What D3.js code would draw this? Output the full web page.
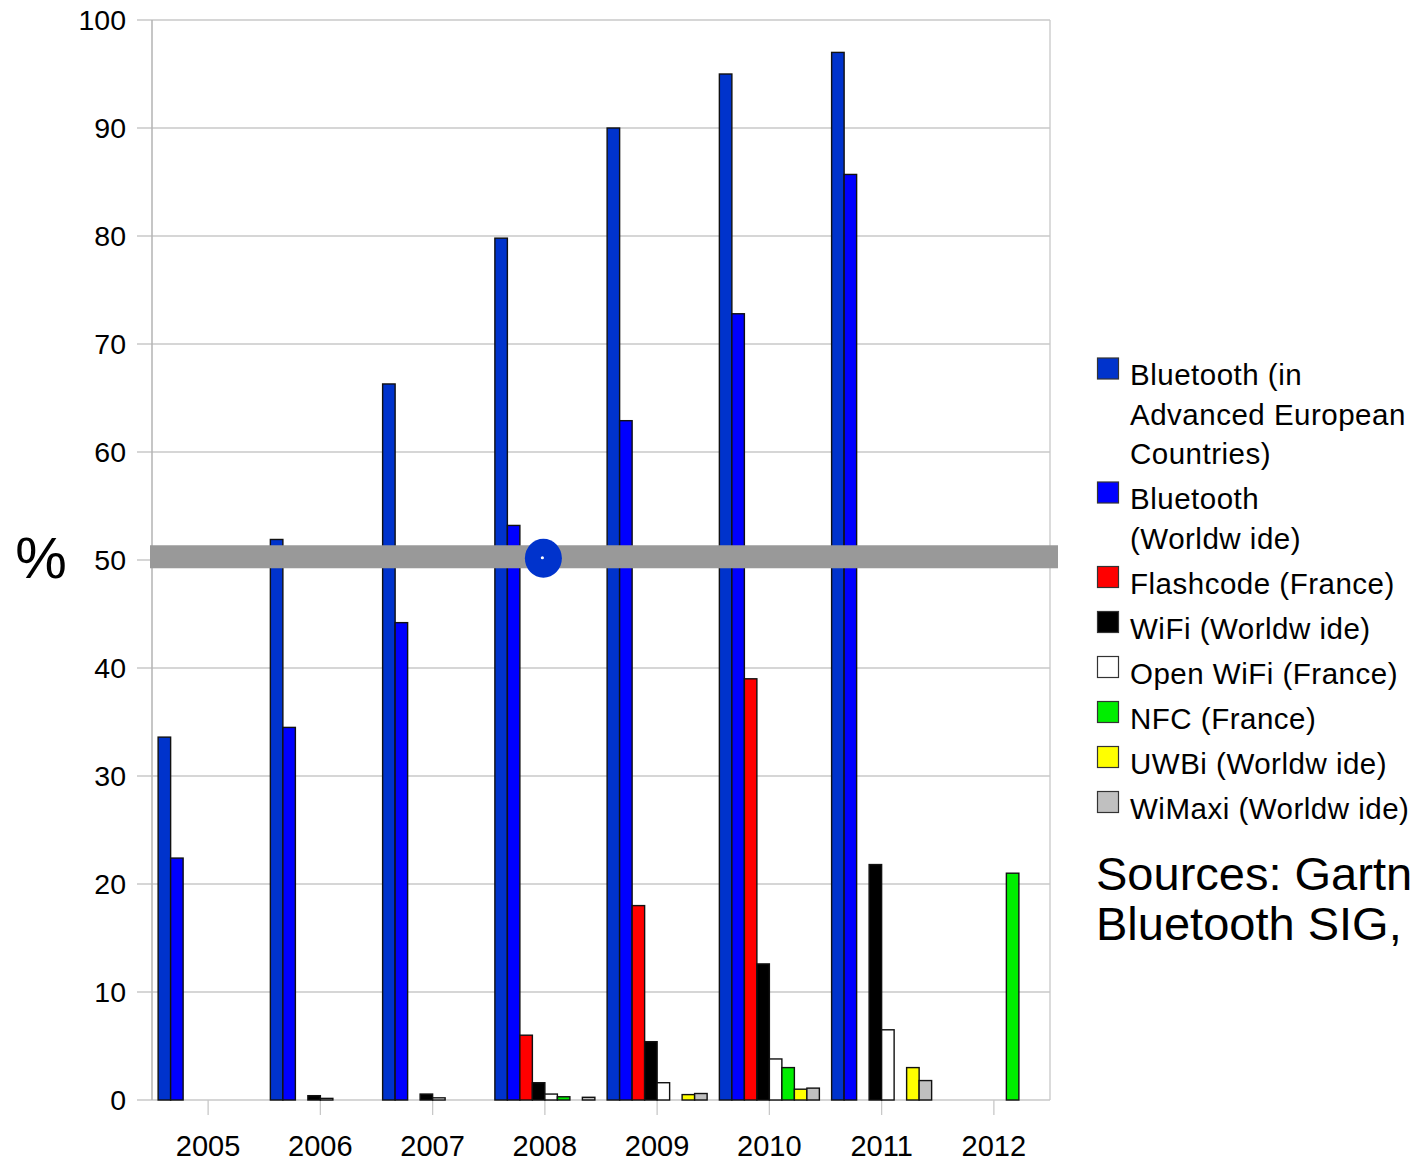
<!DOCTYPE html>
<html>
<head>
<meta charset="utf-8">
<script src="https://cdn.jsdelivr.net/npm/d3@7"></script>
<style>
  body { margin: 0; background: #fff; }
  svg { display: block; font-family: "Liberation Sans", Arial, sans-serif; }
</style>
</head>
<body>
<svg id="chart"></svg>
<script>
// data
const years = ['2005', '2006', '2007', '2008', '2009', '2010', '2011', '2012']
const seriesNames = [
  'Bluetooth (in Advanced European Countries)',
  'Bluetooth (Worldw ide)',
  'Flashcode (France)',
  'WiFi (Worldw ide)',
  'Open WiFi (France)',
  'NFC (France)',
  'UWBi (Worldw ide)',
  'WiMaxi (Worldw ide)'
]
const legendLines = [
  ['Bluetooth (in', 'Advanced European', 'Countries)'],
  ['Bluetooth', '(Worldw ide)'],
  ['Flashcode (France)'],
  ['WiFi (Worldw ide)'],
  ['Open WiFi (France)'],
  ['NFC (France)'],
  ['UWBi (Worldw ide)'],
  ['WiMaxi (Worldw ide)']
]
const colors = ['#0033cc', '#0000ff', '#ff0000', '#000000', '#ffffff', '#00ee00', '#ffff00', '#c0c0c0']

const btAdvanced = [33.6, 51.9, 66.3, 79.8, 90.0, 95.0, 97.0, null]
const btWorldwide = [22.4, 34.5, 44.2, 53.2, 62.9, 72.8, 85.7, null]
const flashcode = [null, null, null, 6.0, 18.0, 39.0, null, null]
const wifi = [null, 0.4, 0.55, 1.6, 5.4, 12.6, 21.8, null]
const openWifi = [null, 0.15, 0.2, 0.55, 1.6, 3.8, 6.5, null]
const nfc = [null, null, null, 0.3, null, 3.0, null, 21.0]
const uwb = [null, null, null, null, 0.5, 1.0, 3.0, null]
const wimax = [null, null, null, 0.25, 0.6, 1.1, 1.8, null]
const allSeries = [btAdvanced, btWorldwide, flashcode, wifi, openWifi, nfc, uwb, wimax]

const yTicks = [0, 10, 20, 30, 40, 50, 60, 70, 80, 90, 100]
const markLevel = 50.3
const markYear = '2008'
// the source note runs past the right edge, as in the original
const sourceLines = ['Sources: Gartner,', 'Bluetooth SIG, ...']

const width = 1411
const height = 1162
const margin = { top: 20, right: 361, bottom: 62, left: 152 }

const svg = d3.select('#chart')
  .attr('width', width)
  .attr('height', height)

const x0 = d3.scaleBand()
  .domain(years)
  .range([margin.left, width - margin.right])
  .padding(0)

const x1 = d3.scaleBand()
  .domain(d3.range(seriesNames.length))
  .range([0, x0.bandwidth()])
  .paddingInner(0)
  .paddingOuter(0.49)

const y = d3.scaleLinear()
  .domain([0, 100])
  .range([height - margin.bottom, margin.top])

const plotLeft = margin.left
const plotRight = width - margin.right

// grid
svg.append('g')
  .selectAll('line')
  .data(yTicks)
  .join('line')
  .attr('x1', plotLeft - 15)
  .attr('x2', plotRight)
  .attr('y1', (d) => y(d))
  .attr('y2', (d) => y(d))
  .attr('stroke', '#c8c8c8')
  .attr('stroke-width', 1.3)

// frame
svg.append('line')
  .attr('x1', plotLeft).attr('x2', plotLeft)
  .attr('y1', y(100)).attr('y2', y(0))
  .attr('stroke', '#b3b3b3').attr('stroke-width', 1.5)
svg.append('line')
  .attr('x1', plotRight).attr('x2', plotRight)
  .attr('y1', y(100)).attr('y2', y(0))
  .attr('stroke', '#c8c8c8').attr('stroke-width', 1.3)

// x tick marks
svg.append('g')
  .selectAll('line')
  .data(years)
  .join('line')
  .attr('x1', (d) => x0(d) + x0.bandwidth() / 2)
  .attr('x2', (d) => x0(d) + x0.bandwidth() / 2)
  .attr('y1', y(0))
  .attr('y2', y(0) + 15)
  .attr('stroke', '#c8c8c8')
  .attr('stroke-width', 1.3)

// y labels
svg.append('g')
  .selectAll('text')
  .data(yTicks)
  .join('text')
  .attr('x', 126)
  .attr('y', (d) => y(d))
  .attr('dy', '0.36em')
  .attr('text-anchor', 'end')
  .attr('font-size', 28.5)
  .text((d) => d)

// x labels
svg.append('g')
  .selectAll('text')
  .data(years)
  .join('text')
  .attr('x', (d) => x0(d) + x0.bandwidth() / 2)
  .attr('y', y(0) + 56)
  .attr('text-anchor', 'middle')
  .attr('font-size', 29)
  .text((d) => d)

svg.append('text')
  .attr('x', 41)
  .attr('y', 578)
  .attr('text-anchor', 'middle')
  .attr('font-size', 58)
  .text('%')

// bars
const bars = []
years.forEach((yr, i) => {
  allSeries.forEach((s, j) => {
    if (s[i] != null) bars.push({ year: yr, series: j, value: s[i] })
  })
})

svg.append('g')
  .selectAll('rect')
  .data(bars)
  .join('rect')
  .attr('x', (d) => x0(d.year) + x1(d.series))
  .attr('y', (d) => y(d.value))
  .attr('width', x1.bandwidth())
  .attr('height', (d) => y(0) - y(d.value))
  .attr('fill', (d) => colors[d.series])
  .attr('stroke', '#111')
  .attr('stroke-width', 1.4)

// 50% marker band
svg.append('rect')
  .attr('x', plotLeft - 2)
  .attr('y', y(markLevel) - 11.5)
  .attr('width', plotRight - plotLeft + 10)
  .attr('height', 23)
  .attr('fill', '#999999')

const mx = x0(markYear) + x0.bandwidth() / 2 - 1.5
svg.append('ellipse')
  .attr('cx', mx)
  .attr('cy', y(markLevel) + 1.5)
  .attr('rx', 18.5)
  .attr('ry', 19.5)
  .attr('fill', '#0033cc')
svg.append('circle')
  .attr('cx', mx - 1)
  .attr('cy', y(markLevel) + 1)
  .attr('r', 1.6)
  .attr('fill', '#ffffff')

// legend
const legend = svg.append('g').attr('font-size', 29.5).attr('letter-spacing', 0.5)
let baseY = 385
legendLines.forEach((lines, i) => {
  legend.append('rect')
    .attr('x', 1097.5)
    .attr('y', baseY - 27)
    .attr('width', 21)
    .attr('height', 21)
    .attr('fill', colors[i])
    .attr('stroke', '#333')
    .attr('stroke-width', 1.2)
  lines.forEach((ln, k) => {
    legend.append('text')
      .attr('x', 1130)
      .attr('y', baseY + k * 39.5)
      .text(ln)
  })
  baseY += (lines.length - 1) * 39.5 + 45
})

svg.append('g')
  .selectAll('text')
  .data(sourceLines)
  .join('text')
  .attr('x', 1096)
  .attr('y', (d, i) => 890 + i * 50)
  .attr('font-size', 47)
  .text((d) => d)
</script>
</body>
</html>
